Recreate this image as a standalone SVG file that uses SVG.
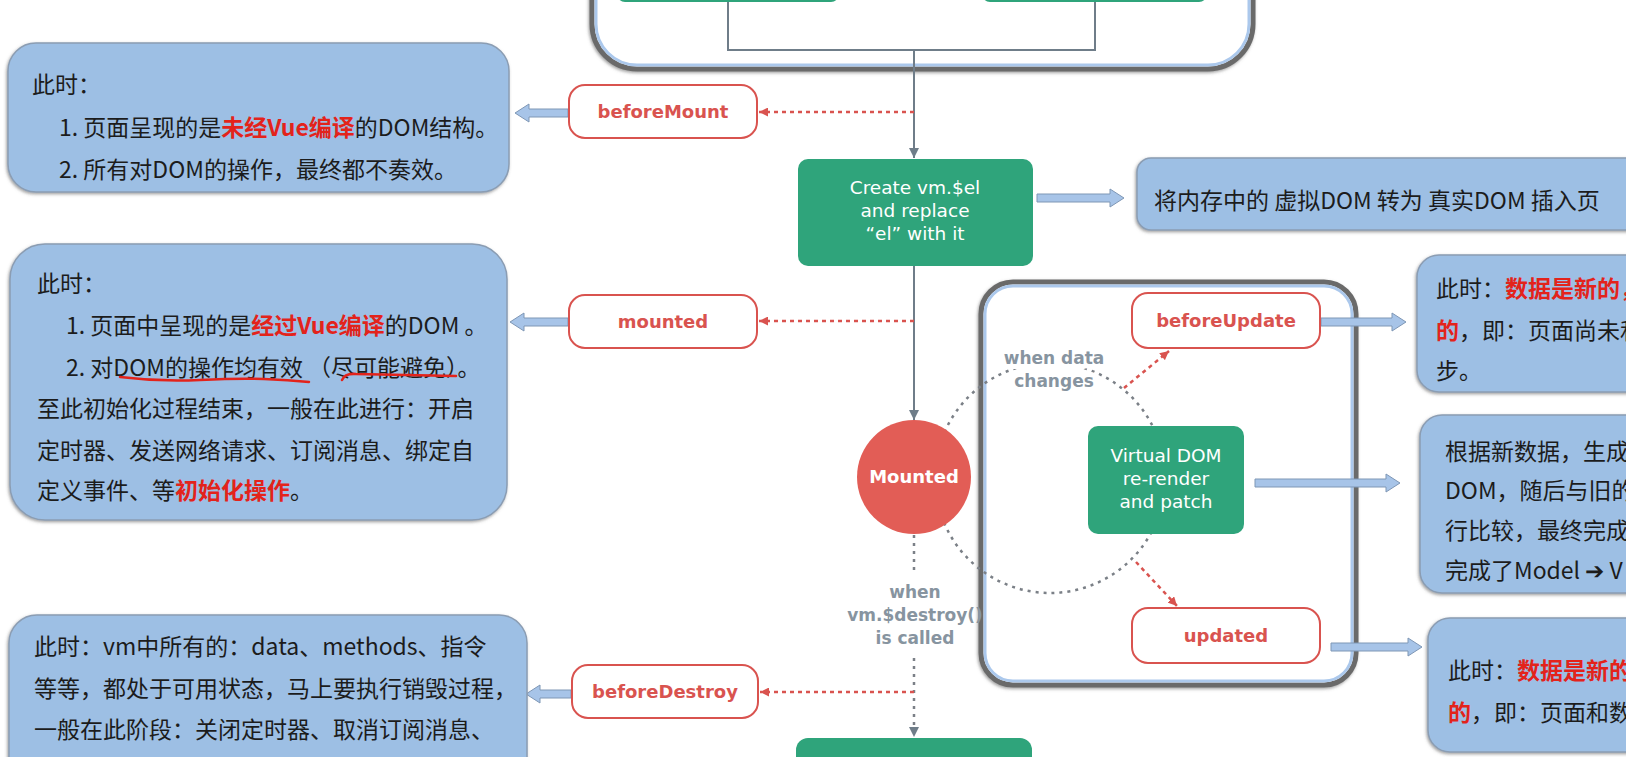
<svg xmlns="http://www.w3.org/2000/svg" width="1632" height="768" viewBox="0 0 1632 768">
<defs>
<style>
.info{fill:#9dbfe4;stroke:#8b9db3;stroke-width:1.5;filter:url(#sh)}
.cjk{font-family:"Noto Sans CJK SC","Noto Sans",sans-serif;font-size:23px;fill:#1c1c1c}
.em{fill:#e3231b;font-weight:700}
.hook{fill:#fff;stroke:#d9534f;stroke-width:2}
.hookt{font-family:"DejaVu Sans",sans-serif;font-weight:700;font-size:18px;fill:#d9534f;text-anchor:middle}
.green{fill:#2fa47b}
.gt{font-family:"DejaVu Sans",sans-serif;font-size:18.5px;fill:#fff;text-anchor:middle}
.lbl{font-family:"DejaVu Sans",sans-serif;font-weight:700;font-size:17px;fill:#8794a0;text-anchor:middle}
.halo{stroke:#fff;stroke-width:10;stroke-linejoin:round;paint-order:stroke}
.gl{fill:none;stroke:#6f7d89;stroke-width:2}
.gd{fill:none;stroke:#7b8087;stroke-width:2.5;stroke-dasharray:3 5}
.rd{fill:none;stroke:#d9534f;stroke-width:2.5;stroke-dasharray:4 4}
.barrow{fill:#a7c4e8;stroke:#7f97b5;stroke-width:1}
.cout{fill:#fff;stroke:#6b6b6b;stroke-width:5;filter:url(#sh)}
.cin{fill:none;stroke:#abc8ec;stroke-width:3}
.ul{fill:none;stroke:#e3231b;stroke-width:2.5;stroke-linecap:round}
</style>
<filter id="sh" x="-5%" y="-5%" width="110%" height="115%">
<feDropShadow dx="-1" dy="1.5" stdDeviation="1.5" flood-color="#555" flood-opacity="0.55"/>
</filter>
<marker id="ag" viewBox="0 0 10 10" refX="10" refY="5" markerWidth="10" markerHeight="10" markerUnits="userSpaceOnUse" orient="auto">
<path d="M0,0 L10,5 L0,10 z" fill="#6f7d89"/>
</marker>
<marker id="ar" viewBox="0 0 10 10" refX="10" refY="5" markerWidth="9" markerHeight="9" markerUnits="userSpaceOnUse" orient="auto">
<path d="M0,0 L10,5 L0,10 z" fill="#d9534f"/>
</marker>
<clipPath id="frame"><rect x="0" y="0" width="1626" height="757"/></clipPath>
</defs>
<rect width="1632" height="768" fill="#fff"/>
<g clip-path="url(#frame)">

<g id="top-container">
<rect class="cout" x="592" y="-80" width="661" height="149" rx="45"/>
<rect class="cin" x="596" y="-80" width="653" height="145" rx="41"/>
<rect class="green" x="617" y="-40" width="222" height="42" rx="8"/>
<rect class="green" x="982" y="-40" width="225" height="42" rx="8"/>
</g>

<g id="update-container">
<rect class="cout" x="981" y="282" width="375" height="403" rx="32"/>
<rect class="cin" x="985" y="286" width="367" height="395" rx="28"/>
</g>

<g id="connectors">
<path class="gl" d="M728 2 V50 H1095 V2"/>
<path class="gl" d="M914 50 V158" marker-end="url(#ag)"/>
<path class="gl" d="M914 266 V420" marker-end="url(#ag)"/>
<path class="gd" d="M914 535 V574"/>
<path class="gd" d="M914 658 V737" marker-end="url(#ag)"/>
<circle class="gd" cx="1050" cy="478" r="115"/>
<path class="rd" d="M914 112 H759" marker-end="url(#ar)"/>
<path class="rd" d="M914 321 H759" marker-end="url(#ar)"/>
<path class="rd" d="M914 692 H760" marker-end="url(#ar)"/>
<path class="rd" d="M1124 388 L1169 351" marker-end="url(#ar)"/>
<path class="rd" d="M1136 562 L1177 606" marker-end="url(#ar)"/>
<path class="barrow" d="M568 109 H529 V104 L515 113 L529 122 V117 H568 Z"/>
<path class="barrow" d="M568 318 H524 V313 L510 322 L524 331 V326 H568 Z"/>
<path class="barrow" d="M571 690 H540 V685 L526 694 L540 703 V698 H571 Z"/>
<path class="barrow" d="M1037 194 H1110 V189 L1124 198 L1110 207 V202 H1037 Z"/>
<path class="barrow" d="M1321 318 H1392 V313 L1406 322 L1392 331 V326 H1321 Z"/>
<path class="barrow" d="M1255 479 H1386 V474 L1400 483 L1386 492 V487 H1255 Z"/>
<path class="barrow" d="M1331 643 H1408 V638 L1422 647 L1408 656 V651 H1331 Z"/>
</g>

<g id="label-data-changes">
<text class="lbl halo" x="1054" y="364">when data</text>
<text class="lbl halo" x="1054" y="387">changes</text>
</g>
<g id="label-destroy">
<text class="lbl" x="915" y="598">when</text>
<text class="lbl" x="915" y="621">vm.$destroy()</text>
<text class="lbl" x="915" y="644">is called</text>
</g>

<g id="create-el">
<rect class="green" x="798" y="159" width="235" height="107" rx="10"/>
<text class="gt" x="915" y="194">Create vm.$el</text>
<text class="gt" x="915" y="217">and replace</text>
<text class="gt" x="915" y="240">“el” with it</text>
</g>

<g id="mounted-state">
<circle cx="914" cy="477" r="57" fill="#e25d56"/>
<text x="914" y="483" font-family="DejaVu Sans, sans-serif" font-weight="700" font-size="18" fill="#fff" text-anchor="middle">Mounted</text>
</g>

<g id="vdom">
<rect class="green" x="1088" y="426" width="156" height="108" rx="10"/>
<text class="gt" x="1166" y="462">Virtual DOM</text>
<text class="gt" x="1166" y="485">re-render</text>
<text class="gt" x="1166" y="508">and patch</text>
</g>

<g id="destroyed-state">
<rect class="green" x="796" y="738" width="236" height="60" rx="12"/>
</g>

<g id="hook-beforeMount">
<rect class="hook" x="569" y="85" width="188" height="53" rx="16"/>
<text class="hookt" x="663" y="118">beforeMount</text>
</g>
<g id="hook-mounted">
<rect class="hook" x="569" y="295" width="188" height="53" rx="16"/>
<text class="hookt" x="663" y="328">mounted</text>
</g>
<g id="hook-beforeDestroy">
<rect class="hook" x="572" y="665" width="186" height="53" rx="16"/>
<text class="hookt" x="665" y="698">beforeDestroy</text>
</g>
<g id="hook-beforeUpdate">
<rect class="hook" x="1132" y="293" width="188" height="55" rx="16"/>
<text class="hookt" x="1226" y="327">beforeUpdate</text>
</g>
<g id="hook-updated">
<rect class="hook" x="1132" y="608" width="188" height="55" rx="16"/>
<text class="hookt" x="1226" y="642">updated</text>
</g>

<g id="note-beforeMount">
<rect class="info" x="8" y="43" width="501" height="149" rx="28"/>
<text class="cjk" x="32" y="93">此时：</text>
<text class="cjk" x="59" y="136">1. 页面呈现的是<tspan class="em">未经Vue编译</tspan>的DOM结构。</text>
<text class="cjk" x="59" y="178">2. 所有对DOM的操作，最终都不奏效。</text>
</g>

<g id="note-mounted">
<rect class="info" x="10" y="244" width="497" height="276" rx="35"/>
<text class="cjk" x="37" y="292">此时：</text>
<text class="cjk" x="66" y="334">1. 页面中呈现的是<tspan class="em">经过Vue编译</tspan>的DOM 。</text>
<text class="cjk" x="66" y="376">2. 对DOM的操作均有效 （尽可能避免）。</text>
<text class="cjk" x="37" y="417">至此初始化过程结束，一般在此进行：开启</text>
<text class="cjk" x="37" y="459">定时器、发送网络请求、订阅消息、绑定自</text>
<text class="cjk" x="37" y="499">定义事件、等<tspan class="em">初始化操作</tspan>。</text>
<path class="ul" d="M120 377 Q160 382 200 380 T264 379 T309 382"/>
<path class="ul" d="M342 380 Q345 373 356 374 L456 376"/>
</g>

<g id="note-beforeDestroy">
<rect class="info" x="9" y="615" width="518" height="190" rx="28"/>
<text class="cjk" x="34" y="655">此时：vm中所有的：data、methods、指令</text>
<text class="cjk" x="34" y="697">等等，都处于可用状态，马上要执行销毁过程，</text>
<text class="cjk" x="34" y="738">一般在此阶段：关闭定时器、取消订阅消息、</text>
</g>

<g id="note-create-el">
<rect class="info" x="1137" y="158" width="520" height="72" rx="14"/>
<text class="cjk" x="1154" y="209">将内存中的 虚拟DOM 转为 真实DOM 插入页</text>
</g>

<g id="note-beforeUpdate">
<rect class="info" x="1417" y="255" width="260" height="137" rx="22"/>
<text class="cjk" x="1436" y="297">此时：<tspan class="em">数据是新的，</tspan></text>
<text class="cjk" x="1436" y="339"><tspan class="em">的</tspan>，即：页面尚未和</text>
<text class="cjk" x="1436" y="379">步。</text>
</g>

<g id="note-vdom">
<rect class="info" x="1420" y="415" width="260" height="178" rx="22"/>
<text class="cjk" x="1445" y="460">根据新数据，生成</text>
<text class="cjk" x="1445" y="499">DOM，随后与旧的</text>
<text class="cjk" x="1445" y="539">行比较，最终完成</text>
<text class="cjk" x="1445" y="579">完成了Model ➔ V</text>
</g>

<g id="note-updated">
<rect class="info" x="1428" y="618" width="260" height="134" rx="22"/>
<text class="cjk" x="1448" y="679">此时：<tspan class="em">数据是新的</tspan></text>
<text class="cjk" x="1448" y="721"><tspan class="em">的</tspan>，即：页面和数</text>
</g>

</g>
</svg>
